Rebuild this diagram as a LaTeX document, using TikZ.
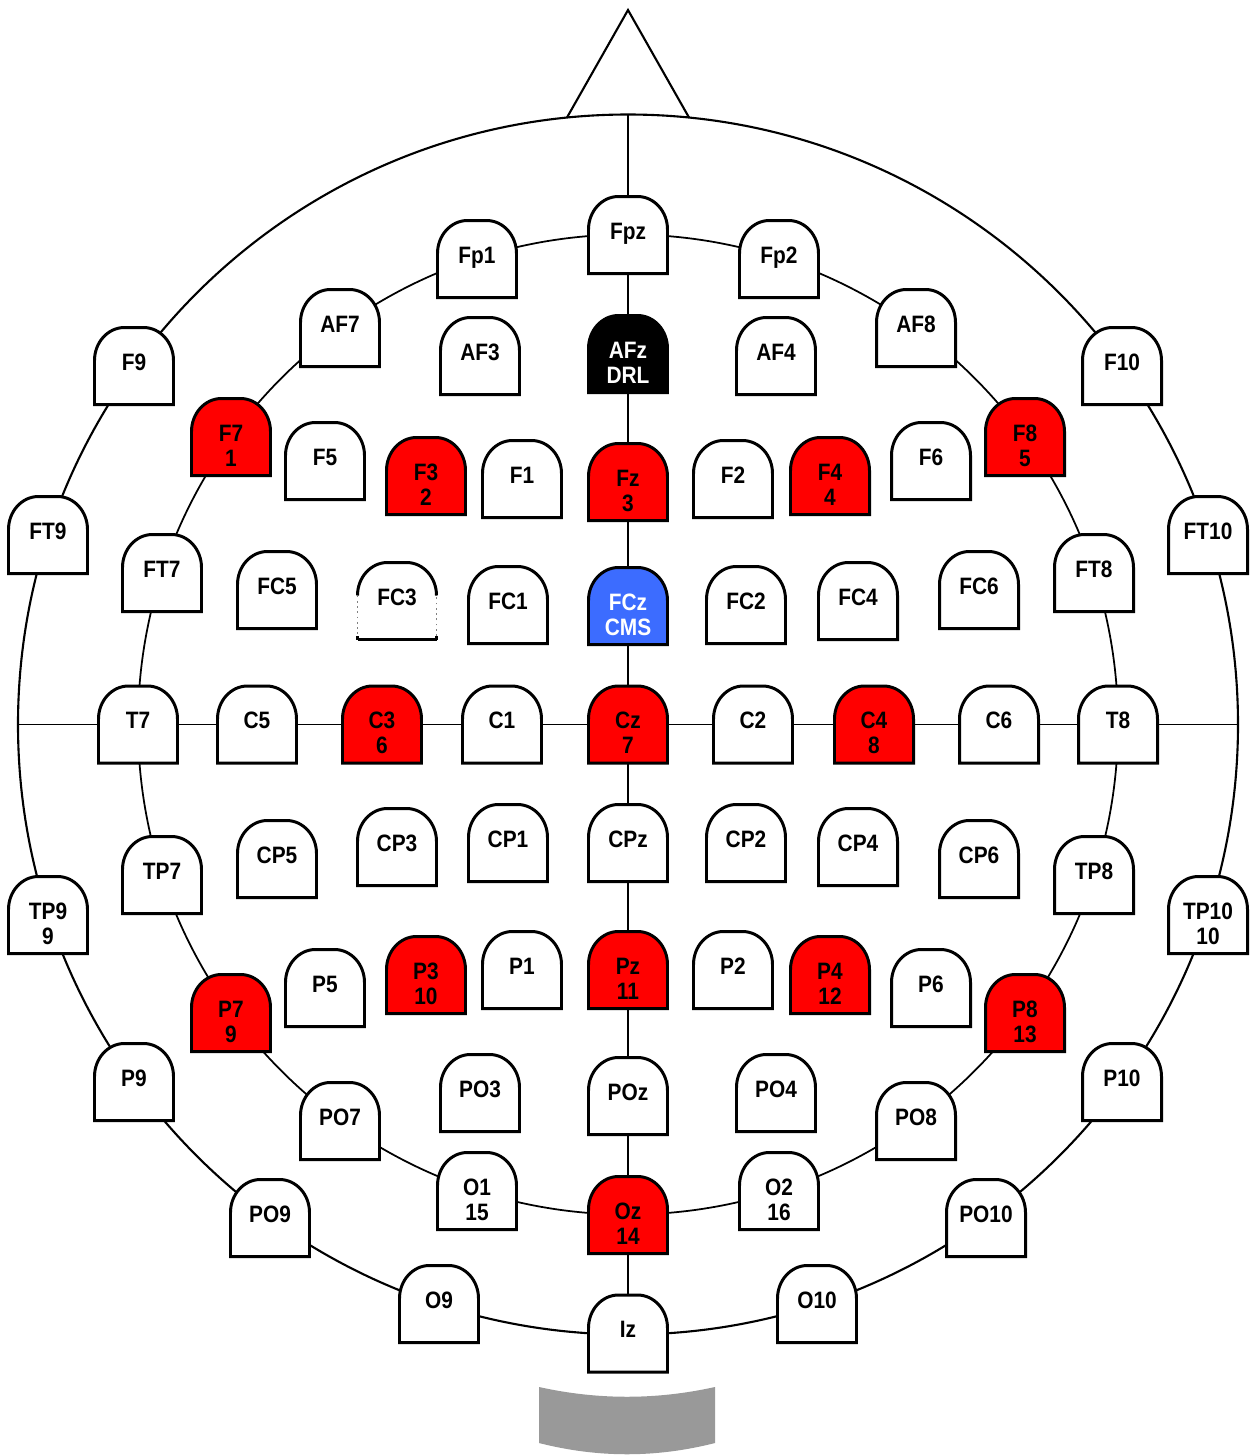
\documentclass[tikz,border=0pt]{standalone}
\usepackage{fontspec}
\newfontfamily\elfont{Liberation Sans}[FakeStretch=0.88]
\usetikzlibrary{backgrounds}
\definecolor{elred}{RGB}{255,0,0}
\definecolor{elblue}{RGB}{60,108,255}
\definecolor{neckgray}{RGB}{153,153,153}
\tikzset{
  tomb/.style={draw=black, line width=1.7pt, line join=miter},
  ebox/.style={inner sep=0pt, minimum width=1.58cm, minimum height=1.54cm},
  elab/.style={inner sep=0pt, anchor=north, align=center,
    font=\elfont\bfseries\fontsize{13.5pt}{14.2pt}\selectfont},
  wire/.style={draw=black, line width=1pt},
  headline/.style={draw=black, line width=1.2pt},
}
\newcommand\elec[6]{%
  \path[tomb, fill=#4] (#2-39.5,#3+38.5) -- (#2-39.5,#3-5.5)
     arc[start angle=180, end angle=270, x radius=30, y radius=33]
     -- (#2+9.5,#3-38.5)
     arc[start angle=270, end angle=360, x radius=30, y radius=33]
     -- (#2+39.5,#3+38.5) -- cycle;
  \node[ebox] (#1) at (#2,#3) {};
  \node[elab, text=#5] (#1-l) at (#2,#3-12.5) {#6};
}
\begin{document}
\begin{tikzpicture}[x=0.02cm, y=-0.02cm]
\useasboundingbox (0,0) rectangle (1253,1455);
% nose
\coordinate (NL) at (567,117.5);
\coordinate (NA) at (628,10);
\coordinate (NR) at (689,117.5);
\draw[headline, line join=miter] (NL) -- (NA) -- (NR);
% neck
\fill[neckgray] (539,1387) .. controls (598,1400) and (656,1400) .. (715,1387)
   -- (715,1443) .. controls (656,1458) and (598,1458) .. (539,1443) -- cycle;
\coordinate (C) at (628,724.5);
\coordinate (Ntop) at (628,114.5);
\coordinate (HL) at (18,724.5);
\coordinate (HR) at (1238,724.5);
% electrodes
\elec{Fpz}{628}{235}{white}{black}{Fpz}
\elec{Fp1}{477}{259}{white}{black}{Fp1}
\elec{Fp2}{779}{259}{white}{black}{Fp2}
\elec{AF7}{340}{328}{white}{black}{AF7}
\elec{AF3}{480}{356}{white}{black}{AF3}
\elec{AFz}{628}{354}{black}{white}{AFz\\DRL}
\elec{AF4}{776}{356}{white}{black}{AF4}
\elec{AF8}{916}{328}{white}{black}{AF8}
\elec{F9}{134}{366}{white}{black}{F9}
\elec{F10}{1122}{366}{white}{black}{F10}
\elec{F7}{231}{437}{elred}{black}{F7\\1}
\elec{F5}{325}{461}{white}{black}{F5}
\elec{F3}{426}{476}{elred}{black}{F3\\2}
\elec{F1}{522}{479}{white}{black}{F1}
\elec{Fz}{628}{482}{elred}{black}{Fz\\3}
\elec{F2}{733}{479}{white}{black}{F2}
\elec{F4}{830}{476}{elred}{black}{F4\\4}
\elec{F6}{931}{461}{white}{black}{F6}
\elec{F8}{1025}{437}{elred}{black}{F8\\5}
\elec{FT9}{48}{535}{white}{black}{FT9}
\elec{FT10}{1208}{535}{white}{black}{FT10}
\elec{FT7}{162}{573}{white}{black}{FT7}
\elec{FC5}{277}{590}{white}{black}{FC5}
% FC3 with faint sides
\fill[white] (397-39.5,601+38.5) -- (397-39.5,601-5.5)
   arc[start angle=180, end angle=270, x radius=30, y radius=33]
   -- (397+9.5,601-38.5)
   arc[start angle=270, end angle=360, x radius=30, y radius=33]
   -- (397+39.5,601+38.5) -- cycle;
\draw[gray, line width=1pt, dotted] (397-39.5,601-5.5) -- (397-39.5,601+38.5) -- (397+39.5,601+38.5) -- (397+39.5,601-5.5);
\draw[black, line width=1.2pt] (397-39.5,601+38.5) -- ++(0,-4);
\draw[black, line width=1.2pt] (397+39.5,601+38.5) -- ++(0,-4);
\draw[black, line width=1.2pt] (397-39.5,601+38.5) -- (397+39.5,601+38.5);
\draw[black, line width=1.7pt] (397-39.5,601-5.5)
   arc[start angle=180, end angle=270, x radius=30, y radius=33]
   -- (397+9.5,601-38.5)
   arc[start angle=270, end angle=360, x radius=30, y radius=33];
\node[ebox] (FC3) at (397,601) {};
\node[elab] (FC3-l) at (397,601-12.5) {FC3};
\elec{FC1}{508}{605}{white}{black}{FC1}
\elec{FCz}{628}{606}{elblue}{white}{FCz\\CMS}
\elec{FC2}{746}{605}{white}{black}{FC2}
\elec{FC4}{858}{601}{white}{black}{FC4}
\elec{FC6}{979}{590}{white}{black}{FC6}
\elec{FT8}{1094}{573}{white}{black}{FT8}
\elec{T7}{138}{724.5}{white}{black}{T7}
\elec{C5}{257}{724.5}{white}{black}{C5}
\elec{C3}{382}{724.5}{elred}{black}{C3\\6}
\elec{C1}{502}{724.5}{white}{black}{C1}
\elec{Cz}{628}{724.5}{elred}{black}{Cz\\7}
\elec{C2}{753}{724.5}{white}{black}{C2}
\elec{C4}{874}{724.5}{elred}{black}{C4\\8}
\elec{C6}{999}{724.5}{white}{black}{C6}
\elec{T8}{1118}{724.5}{white}{black}{T8}
\elec{CP5}{277}{859}{white}{black}{CP5}
\elec{CP3}{397}{847}{white}{black}{CP3}
\elec{CP1}{508}{843}{white}{black}{CP1}
\elec{CPz}{628}{843}{white}{black}{CPz}
\elec{CP2}{746}{843}{white}{black}{CP2}
\elec{CP4}{858}{847}{white}{black}{CP4}
\elec{CP6}{979}{859}{white}{black}{CP6}
\elec{TP7}{162}{875}{white}{black}{TP7}
\elec{TP8}{1094}{875}{white}{black}{TP8}
\elec{TP9}{48}{915}{white}{black}{TP9\\9}
\elec{TP10}{1208}{915}{white}{black}{TP10\\10}
\elec{P5}{325}{988}{white}{black}{P5}
\elec{P3}{426}{975}{elred}{black}{P3\\10}
\elec{P1}{522}{970}{white}{black}{P1}
\elec{Pz}{628}{970}{elred}{black}{Pz\\11}
\elec{P2}{733}{970}{white}{black}{P2}
\elec{P4}{830}{975}{elred}{black}{P4\\12}
\elec{P6}{931}{988}{white}{black}{P6}
\elec{P7}{231}{1013}{elred}{black}{P7\\9}
\elec{P8}{1025}{1013}{elred}{black}{P8\\13}
\elec{P9}{134}{1082}{white}{black}{P9}
\elec{P10}{1122}{1082}{white}{black}{P10}
\elec{PO3}{480}{1093}{white}{black}{PO3}
\elec{POz}{628}{1096}{white}{black}{POz}
\elec{PO4}{776}{1093}{white}{black}{PO4}
\elec{PO7}{340}{1121}{white}{black}{PO7}
\elec{PO8}{916}{1121}{white}{black}{PO8}
\elec{O1}{477}{1191}{white}{black}{O1\\15}
\elec{O2}{779}{1191}{white}{black}{O2\\16}
\elec{Oz}{628}{1215}{elred}{black}{Oz\\14}
\elec{PO9}{270}{1218}{white}{black}{PO9}
\elec{PO10}{986}{1218}{white}{black}{PO10}
\elec{O9}{439}{1304}{white}{black}{O9}
\elec{O10}{817}{1304}{white}{black}{O10}
\elec{Iz}{628}{1333.5}{white}{black}{Iz}
% connectors behind the electrodes
\begin{scope}[on background layer]
  \draw[headline] (C) circle[radius=610];
  \draw[wire] (C) circle[radius=490];
  \draw[wire] (Ntop) -- (Fpz) -- (AFz) -- (Fz) -- (FCz) -- (Cz) -- (CPz)
     -- (Pz) -- (POz) -- (Oz) -- (Iz);
  \draw[wire] (HL) -- (T7) -- (C5) -- (C3) -- (C1) -- (Cz) -- (C2)
     -- (C4) -- (C6) -- (T8) -- (HR);
\end{scope}
\end{tikzpicture}
\end{document}
